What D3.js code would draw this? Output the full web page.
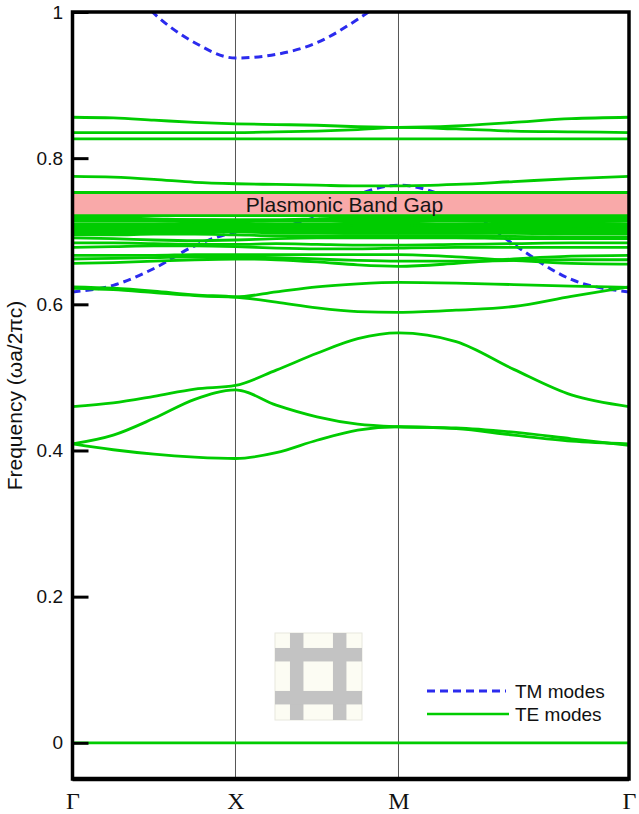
<!DOCTYPE html>
<html>
<head>
<meta charset="utf-8">
<script src="https://cdn.jsdelivr.net/npm/d3@7"></script>
<style>
  html, body { margin: 0; padding: 0; background: #fff; }
  svg { display: block; }
</style>
</head>
<body>
<svg id="chart" width="639" height="814"></svg>
<script>
// High-symmetry points of the square lattice path Γ → X → M → Γ
const kLabels = ["Γ", "X", "M", "Γ"];
const kNodes = [0, 1, 2, 2 + Math.SQRT2];
// Each segment is sampled at quarter steps
const segSteps = [0, 0.25, 0.5, 0.75];

const yTicks = [0, 0.2, 0.4, 0.6, 0.8, 1];
const yTickLabels = ["0", "0.2", "0.4", "0.6", "0.8", "1"];

// Plasmonic band gap (normalised frequency)
const gapRange = [0.7215, 0.7525];
const gapLabel = "Plasmonic Band Gap";

// TE bands, one row per band, values at the 13 k samples
const teBands = [
  [0, 0, 0, 0, 0, 0, 0, 0, 0, 0, 0, 0, 0],
  [0.409, 0.401, 0.395, 0.391, 0.389, 0.397, 0.414, 0.428, 0.4325, 0.430, 0.421, 0.413, 0.409],
  [0.409, 0.421, 0.444, 0.470, 0.483, 0.462, 0.446, 0.436, 0.4325, 0.431, 0.425, 0.416, 0.407],
  [0.460, 0.465, 0.474, 0.484, 0.489, 0.510, 0.533, 0.553, 0.561, 0.549, 0.511, 0.476, 0.460],
  [0.624, 0.622, 0.618, 0.613, 0.610, 0.603, 0.595, 0.590, 0.589, 0.592, 0.597, 0.611, 0.624],
  [0.622, 0.620, 0.616, 0.612, 0.610, 0.617, 0.624, 0.628, 0.630, 0.629, 0.627, 0.625, 0.623],
  [0.656, 0.657, 0.659, 0.661, 0.662, 0.661, 0.658, 0.654, 0.652, 0.656, 0.662, 0.666, 0.667],
  [0.662, 0.663, 0.664, 0.665, 0.665, 0.664, 0.662, 0.660, 0.659, 0.659, 0.660, 0.661, 0.661],
  [0.667, 0.667, 0.667, 0.668, 0.668, 0.668, 0.668, 0.668, 0.668, 0.665, 0.660, 0.656, 0.655],
  [0.678, 0.679, 0.680, 0.680, 0.679, 0.677, 0.676, 0.676, 0.677, 0.678, 0.678, 0.678, 0.678],
  [0.684, 0.684, 0.683, 0.682, 0.682, 0.683, 0.682, 0.681, 0.681, 0.682, 0.683, 0.684, 0.684],
  [0.691, 0.690, 0.688, 0.687, 0.688, 0.690, 0.691, 0.691, 0.691, 0.691, 0.690, 0.690, 0.690],
  [0.695, 0.695, 0.696, 0.696, 0.695, 0.694, 0.694, 0.694, 0.694, 0.694, 0.693, 0.692, 0.692],
  [0.698, 0.698, 0.698, 0.699, 0.699, 0.698, 0.698, 0.697, 0.697, 0.697, 0.697, 0.696, 0.696],
  [0.700, 0.700, 0.700, 0.701, 0.701, 0.701, 0.700, 0.700, 0.700, 0.699, 0.699, 0.699, 0.699],
  [0.702, 0.702, 0.702, 0.703, 0.703, 0.703, 0.702, 0.702, 0.702, 0.702, 0.702, 0.701, 0.701],
  [0.704, 0.704, 0.705, 0.705, 0.705, 0.705, 0.704, 0.704, 0.704, 0.704, 0.704, 0.704, 0.704],
  [0.706, 0.706, 0.707, 0.707, 0.707, 0.707, 0.706, 0.706, 0.706, 0.706, 0.707, 0.707, 0.706],
  [0.708, 0.708, 0.708, 0.708, 0.708, 0.708, 0.708, 0.709, 0.709, 0.708, 0.708, 0.708, 0.708],
  [0.710, 0.710, 0.710, 0.710, 0.710, 0.710, 0.710, 0.711, 0.711, 0.710, 0.710, 0.710, 0.710],
  [0.714, 0.714, 0.714, 0.713, 0.713, 0.714, 0.714, 0.714, 0.714, 0.714, 0.713, 0.713, 0.714],
  [0.716, 0.716, 0.716, 0.716, 0.715, 0.715, 0.716, 0.716, 0.716, 0.716, 0.716, 0.716, 0.716],
  [0.718, 0.718, 0.717, 0.716, 0.716, 0.716, 0.717, 0.718, 0.718, 0.718, 0.718, 0.718, 0.718],
  [0.7215, 0.7215, 0.7215, 0.7215, 0.7215, 0.7215, 0.7215, 0.7215, 0.7215, 0.7215, 0.7215, 0.7215, 0.7215],
  [0.753, 0.753, 0.753, 0.753, 0.753, 0.753, 0.753, 0.753, 0.753, 0.753, 0.753, 0.753, 0.753],
  [0.775, 0.774, 0.771, 0.767, 0.765, 0.764, 0.763, 0.762, 0.762, 0.764, 0.768, 0.772, 0.775],
  [0.8265, 0.8265, 0.8265, 0.8265, 0.8265, 0.8265, 0.8265, 0.8265, 0.8265, 0.8265, 0.8265, 0.8265, 0.8265],
  [0.835, 0.835, 0.835, 0.835, 0.835, 0.836, 0.837, 0.839, 0.842, 0.840, 0.837, 0.836, 0.835],
  [0.856, 0.855, 0.852, 0.849, 0.847, 0.846, 0.845, 0.843, 0.842, 0.844, 0.849, 0.854, 0.856]
];

// TM bands (null where the band runs above the plotted range)
const tmBands = [
  [0.617, 0.626, 0.649, 0.680, 0.699, 0.705, 0.720, 0.750, 0.763, 0.740, 0.682, 0.634, 0.617],
  [1.12, 1.06, 0.998, 0.958, 0.937, 0.942, 0.958, 0.990, 1.03, null, null, null, null]
];

const legendItems = [
  { label: "TM modes", dashed: true },
  { label: "TE modes", dashed: false }
];

const yAxisTitle = "Frequency (ωa/2πc)";

// ---- derived k sample positions ----
const kSamples = [];
for (let s = 0; s < kNodes.length - 1; s++) {
  segSteps.forEach(f => kSamples.push(kNodes[s] + f * (kNodes[s + 1] - kNodes[s])));
}
kSamples.push(kNodes[kNodes.length - 1]);

// ---- layout ----
const plot = { left: 72.5, right: 629, top: 12, bottom: 779 };
const teColor = "#00cc00";
const tmColor = "#2b2bee";
const font = "'Liberation Sans', Arial, Helvetica, sans-serif";

const svg = d3.select("#chart");

const x = d3.scaleLinear()
  .domain([kNodes[0], kNodes[kNodes.length - 1]])
  .range([plot.left, plot.right]);
const y = d3.scaleLinear()
  .domain([0, 1])
  .range([742.8, 12]);

svg.append("defs").append("clipPath").attr("id", "plotClip")
  .append("rect")
  .attr("x", plot.left).attr("y", plot.top)
  .attr("width", plot.right - plot.left).attr("height", plot.bottom - plot.top);

// vertical separators at X and M
svg.append("g").selectAll("line")
  .data(kNodes.slice(1, -1))
  .join("line")
  .attr("x1", d => x(d)).attr("x2", d => x(d))
  .attr("y1", plot.top).attr("y2", plot.bottom)
  .attr("stroke", "#555").attr("stroke-width", 1);

const line = d3.line()
  .defined(d => d[1] !== null)
  .x(d => x(d[0]))
  .y(d => y(d[1]))
  .curve(d3.curveMonotoneX);

const bandsG = svg.append("g").attr("clip-path", "url(#plotClip)");

// TM modes (dashed), drawn beneath the gap shading and the TE bands
bandsG.append("g").selectAll("path")
  .data(tmBands)
  .join("path")
  .attr("d", vals => line(vals.map((v, i) => [kSamples[i], v])))
  .attr("fill", "none")
  .attr("stroke", tmColor)
  .attr("stroke-width", 3)
  .attr("stroke-dasharray", "8,5");

// band gap shading
bandsG.append("rect")
  .attr("x", plot.left).attr("width", plot.right - plot.left)
  .attr("y", y(gapRange[1])).attr("height", y(gapRange[0]) - y(gapRange[1]))
  .attr("fill", "#f9a9a9");

// TE modes (solid)
bandsG.append("g").selectAll("path")
  .data(teBands)
  .join("path")
  .attr("d", vals => line(vals.map((v, i) => [kSamples[i], v])))
  .attr("fill", "none")
  .attr("stroke", teColor)
  .attr("stroke-width", 2.8);

// gap label
svg.append("text")
  .attr("x", 344.5).attr("y", (y(gapRange[0]) + y(gapRange[1])) / 2)
  .attr("dy", "0.36em")
  .attr("text-anchor", "middle")
  .attr("font-family", font).attr("font-size", 21)
  .attr("fill", "#151515")
  .text(gapLabel);

// frame
svg.append("rect")
  .attr("x", plot.left).attr("y", plot.top)
  .attr("width", plot.right - plot.left).attr("height", plot.bottom - plot.top)
  .attr("fill", "none").attr("stroke", "#000").attr("stroke-width", 3.5);
svg.append("line")
  .attr("x1", plot.left).attr("x2", plot.right)
  .attr("y1", plot.bottom).attr("y2", plot.bottom)
  .attr("stroke", "#000").attr("stroke-width", 4.5);

// y axis: inward ticks with labels
const yAxis = d3.axisLeft(y)
  .tickValues(yTicks)
  .tickFormat((d, i) => yTickLabels[i])
  .tickSizeInner(-16)
  .tickSizeOuter(0)
  .tickPadding(10);
const yAxisG = svg.append("g")
  .attr("transform", `translate(${plot.left},0)`)
  .call(yAxis);
yAxisG.select(".domain").remove();
yAxisG.selectAll(".tick line").attr("stroke", "#000").attr("stroke-width", 3);
yAxisG.selectAll(".tick text")
  .attr("x", 63 - plot.left)
  .attr("font-family", font).attr("font-size", 19).attr("fill", "#111");

// x axis: symmetry point labels
const xAxis = d3.axisBottom(x)
  .tickValues(kNodes)
  .tickFormat((d, i) => kLabels[i])
  .tickSize(0)
  .tickPadding(0);
const xAxisG = svg.append("g")
  .attr("transform", `translate(0,${plot.bottom})`)
  .call(xAxis);
xAxisG.select(".domain").remove();
xAxisG.selectAll(".tick text")
  .attr("dy", null)
  .attr("y", 30)
  .attr("font-family", "'Liberation Serif', 'Times New Roman', serif")
  .attr("font-size", 24).attr("fill", "#111");

// y axis title
svg.append("text")
  .attr("transform", `translate(22,${(plot.top + plot.bottom) / 2}) rotate(-90)`)
  .attr("text-anchor", "middle")
  .attr("font-family", font).attr("font-size", 21).attr("fill", "#111")
  .text(yAxisTitle);

// unit-cell inset: square mesh of metal strips
const cell = { x: 275, y: 633, size: 87 };
const strips = [0.172, 0.666];
const stripW = 0.155;
const inset = svg.append("g").attr("transform", `translate(${cell.x},${cell.y})`);
inset.append("rect")
  .attr("width", cell.size).attr("height", cell.size)
  .attr("fill", "#fcfcf3").attr("stroke", "#e8e8de").attr("stroke-width", 1);
inset.selectAll("rect.v").data(strips).join("rect").attr("class", "v")
  .attr("x", d => d * cell.size).attr("y", 0)
  .attr("width", stripW * cell.size).attr("height", cell.size)
  .attr("fill", "#c3c3c3");
inset.selectAll("rect.h").data(strips).join("rect").attr("class", "h")
  .attr("x", 0).attr("y", d => d * cell.size)
  .attr("width", cell.size).attr("height", stripW * cell.size)
  .attr("fill", "#c3c3c3");

// legend
const legend = svg.append("g").attr("transform", "translate(427,691)");
const rows = legend.selectAll("g").data(legendItems).join("g")
  .attr("transform", (d, i) => `translate(0,${i * 23})`);
rows.append("line")
  .attr("x1", 0).attr("x2", d => d.dashed ? 79 : 82)
  .attr("y1", 0).attr("y2", 0)
  .attr("stroke", d => d.dashed ? tmColor : teColor)
  .attr("stroke-width", d => d.dashed ? 3 : 2.6)
  .attr("stroke-dasharray", d => d.dashed ? "8,5" : null);
rows.append("text")
  .attr("x", 88).attr("y", 0).attr("dy", "0.35em")
  .attr("font-family", font).attr("font-size", 19).attr("fill", "#111")
  .text(d => d.label);
</script>
</body>
</html>
